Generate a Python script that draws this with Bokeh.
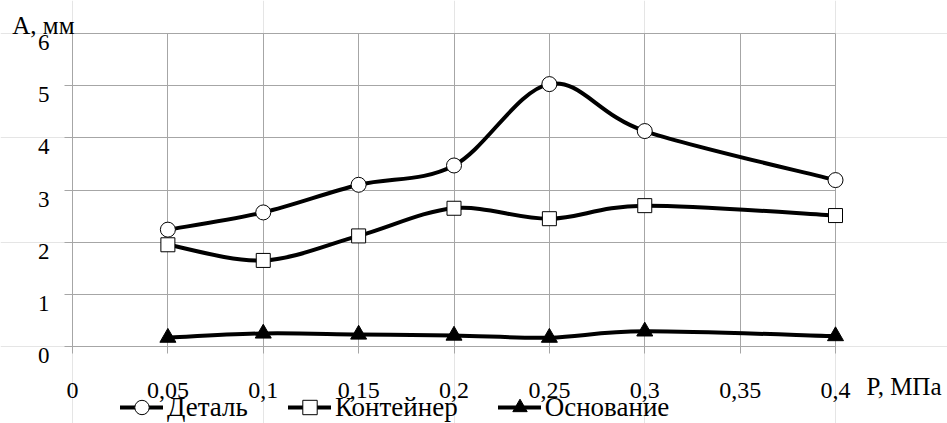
from bokeh.plotting import figure
from bokeh.models import Range1d, FixedTicker, Label, Legend, LegendItem, Grid
from bokeh.embed import file_html
from bokeh.resources import INLINE

# ---- data ----
pressure = [0.05, 0.1, 0.15, 0.2, 0.25, 0.3, 0.4]
detal = [2.24, 2.57, 3.10, 3.47, 5.03, 4.13, 3.19]
konteiner = [1.95, 1.65, 2.12, 2.65, 2.45, 2.70, 2.51]
osnovanie = [0.17, 0.25, 0.23, 0.21, 0.17, 0.29, 0.20]
series_names = ["Деталь", "Контейнер", "Основание"]

x_ticks = [0, 0.05, 0.1, 0.15, 0.2, 0.25, 0.3, 0.35, 0.4]
x_tick_labels = ["0", "0,05", "0,1", "0,15", "0,2", "0,25", "0,3", "0,35", "0,4"]
y_ticks = [0, 1, 2, 3, 4, 5, 6]
y_tick_labels = ["0", "1", "2", "3", "4", "5", "6"]
x_axis_title = "P, МПа"
y_axis_title = "A, мм"

FONT = "Liberation Serif"
GRID = "#a6a6a6"

# ---- layout (pixels) ----
W, H = 947, 423
PX_X0, PX_X1 = 72, 835      # pixel of x = first / last tick
PX_Y0, PX_Y1 = 346, 33      # pixel of y = first / last tick
kx = (PX_X1 - PX_X0) / (x_ticks[-1] - x_ticks[0])   # px per x unit
ky = (PX_Y0 - PX_Y1) / (y_ticks[-1] - y_ticks[0])   # px per y unit
x_start = x_ticks[0] - PX_X0 / kx
x_stop = x_start + W / kx
y_start = y_ticks[0] - (H - PX_Y0) / ky
y_stop = y_start + H / ky


def smooth_segments(xs, ys, t=1.0 / 6.0):
    """Bezier control points of a smoothed line through the points."""
    n = len(xs)
    out = {k: [] for k in ("x0", "y0", "x1", "y1", "cx0", "cy0", "cx1", "cy1")}
    for i in range(n - 1):
        ip = max(i - 1, 0)
        inn = min(i + 2, n - 1)
        out["x0"].append(xs[i]); out["y0"].append(ys[i])
        out["x1"].append(xs[i + 1]); out["y1"].append(ys[i + 1])
        out["cx0"].append(xs[i] + (xs[i + 1] - xs[ip]) * t)
        out["cy0"].append(ys[i] + (ys[i + 1] - ys[ip]) * t)
        out["cx1"].append(xs[i + 1] - (xs[inn] - xs[i]) * t)
        out["cy1"].append(ys[i + 1] - (ys[inn] - ys[i]) * t)
    return out


p = figure(width=W, height=H,
           x_range=Range1d(x_start, x_stop), y_range=Range1d(y_start, y_stop),
           x_axis_location=None, y_axis_location=None,
           output_backend="svg", toolbar_location=None, min_border=0)
p.outline_line_color = None
p.background_fill_color = "white"
p.border_fill_color = "white"

# grid lines (their extension past the zero lines forms the tick marks)
xgrid = Grid(dimension=0, ticker=FixedTicker(ticks=x_ticks),
             grid_line_color=GRID, grid_line_width=1,
             cross_bounds=(y_ticks[0] - 7 / ky, y_ticks[-1]))
ygrid = Grid(dimension=1, ticker=FixedTicker(ticks=y_ticks),
             grid_line_color=GRID, grid_line_width=1,
             cross_bounds=(x_ticks[0] - 8 / kx, x_ticks[-1]))
p.add_layout(xgrid)
p.add_layout(ygrid)

items = []
specs = [(detal, "circle", 15), (konteiner, "square", 14), (osnovanie, "triangle", 16)]
for name, (ys, marker, size) in zip(series_names, specs):
    seg = smooth_segments(pressure, ys)
    br = p.bezier(line_color="black", line_width=4, line_cap="round", **seg)
    sr = p.scatter(pressure, ys, marker=marker, size=size,
                   fill_color="black" if marker == "triangle" else "white",
                   line_color="black", line_width=1)
    items.append(LegendItem(label=name, renderers=[br, sr]))

# x tick labels (screen placement derived from the tick values)
for t, lab in zip(x_ticks, x_tick_labels):
    p.add_layout(Label(x=PX_X0 + (t - x_ticks[0]) * kx, y=H - 390,
                       x_units="screen", y_units="screen", text=lab,
                       text_align="center", text_baseline="alphabetic",
                       text_font=FONT, text_font_size="24px", text_color="black"))

legend = Legend(items=items, orientation="horizontal", location=(120, -2),
                glyph_width=43, glyph_height=36, label_standoff=4, spacing=40,
                padding=0, margin=0, border_line_color=None, background_fill_alpha=0,
                label_text_font=FONT, label_text_font_size="27px",
                label_text_color="black")
p.add_layout(legend)

# y tick labels
for t, lab in zip(y_ticks, y_tick_labels):
    p.add_layout(Label(x=x_ticks[0] - 23 / kx, y=t - 9 / ky, text=lab,
                       text_align="right", text_baseline="alphabetic",
                       text_font=FONT, text_font_size="23px", text_color="black"))

p.add_layout(Label(x=74, y=H - 25, x_units="screen", y_units="screen",
                   text=y_axis_title, text_align="right", text_baseline="alphabetic",
                   text_font=FONT, text_font_size="25px", text_color="black"))
p.add_layout(Label(x=866, y=H - 386, x_units="screen", y_units="screen",
                   text=x_axis_title, text_align="left", text_baseline="alphabetic",
                   text_font=FONT, text_font_size="25px", text_color="black"))

open("out.html", "w").write(file_html(p, INLINE))
